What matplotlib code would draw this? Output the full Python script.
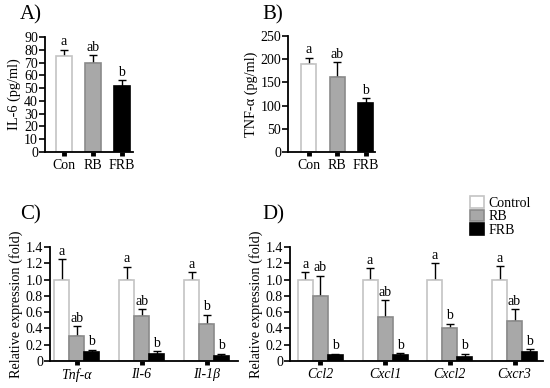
import numpy as np
import matplotlib
matplotlib.use("Agg")
import matplotlib.pyplot as plt
from matplotlib.patches import Patch

plt.rcParams['font.family'] = ['Liberation Serif', 'DejaVu Serif']
plt.rcParams['mathtext.fontset'] = 'stix'

# panel A / B data
groups_ab = ['Con', 'RB', 'FRB']
il6 = [75, 70, 52]
il6_err = [5, 6, 4]
il6_sig = ['a', 'ab', 'b']
tnf = [190, 161, 106]
tnf_err = [13, 33, 10]
tnf_sig = ['a', 'ab', 'b']

# panel C data
genes_c = ['Tnf-α', 'Il-6', 'Il-1β']
c_control = [1.00, 0.99, 1.00]
c_control_err = [0.25, 0.17, 0.09]
c_rb = [0.31, 0.55, 0.46]
c_rb_err = [0.12, 0.09, 0.11]
c_frb = [0.11, 0.08, 0.06]
c_frb_err = [0.03, 0.04, 0.03]
c_sig = [['a', 'ab', 'b'], ['a', 'ab', 'b'], ['a', 'b', 'b']]

# panel D data
genes_d = ['Ccl2', 'Cxcl1', 'Cxcl2', 'Cxcr3']
d_control = [1.00, 1.00, 1.00, 1.00]
d_control_err = [0.09, 0.14, 0.20, 0.17]
d_rb = [0.80, 0.54, 0.40, 0.49]
d_rb_err = [0.25, 0.21, 0.06, 0.15]
d_frb = [0.07, 0.07, 0.05, 0.11]
d_frb_err = [0.02, 0.03, 0.04, 0.04]
d_sig = [['a', 'ab', 'b'], ['a', 'ab', 'b'], ['a', 'b', 'b'], ['a', 'ab', 'b']]

rel_ticks = [0, 0.2, 0.4, 0.6, 0.8, 1.0, 1.2, 1.4]
rel_labels = ['0', '0.2', '0.4', '0.6', '0.8', '1.0', '1.2', '1.4']

fills = ['white', '#a8a8a8', 'black']
edges = ['#c4c4c4', '#8a8a8a', 'black']
names = ['Control', 'RB', 'FRB']

FS = 10

fig = plt.figure(figsize=(5.5, 3.88), dpi=100)
W, H = 550, 388


def make_ax(l, r, top, bot):
    return fig.add_axes([l / W, 1 - bot / H, (r - l) / W, (bot - top) / H])


def style(ax):
    for s in ['top', 'right']:
        ax.spines[s].set_visible(False)
    for s in ['left', 'bottom']:
        ax.spines[s].set_linewidth(1.3)
    ax.tick_params(axis='y', direction='out', length=4, width=1.2, labelsize=FS, pad=1)
    ax.tick_params(axis='x', direction='out', length=3, width=3.5, labelsize=FS, pad=2)


def simple_panel(ax, vals, errs, sig, width, off):
    x = np.arange(len(vals))
    for i in range(len(vals)):
        ax.bar(x[i], vals[i], width, color=fills[i], edgecolor=edges[i], linewidth=1.2, zorder=2)
        ax.errorbar(x[i], vals[i], yerr=[[0], [errs[i]]], color='black', capsize=3,
                    elinewidth=1, capthick=1, zorder=1)
        ax.text(x[i], vals[i] + errs[i] + off, sig[i], ha='center', va='bottom', fontsize=FS)
    ax.set_xticks(x)
    ax.set_xticklabels(groups_ab)
    style(ax)


# A
axA = make_ax(45, 133, 37, 152)
simple_panel(axA, il6, il6_err, il6_sig, 0.55, 1)
axA.set_ylim(0, 90)
axA.set_yticks(np.arange(0, 91, 10))
axA.set_xlim(-0.655, 2.38)
axA.set_ylabel('IL-6 (pg/ml)', fontsize=10.3, labelpad=2)
fig.text(20 / W, 1 - 15 / H, 'A)', fontsize=15, va='center')

# B
axB = make_ax(288, 375, 36, 152)
simple_panel(axB, tnf, tnf_err, tnf_sig, 0.53, 3)
axB.set_ylim(0, 250)
axB.set_yticks(np.arange(0, 251, 50))
axB.set_xlim(-0.72, 2.33)
axB.set_ylabel('TNF-α (pg/ml)', fontsize=10.3, labelpad=2)
fig.text(262 / W, 1 - 15 / H, 'B)', fontsize=15, va='center')


def group_panel(ax, genes, series, errs, sig, width):
    x = np.arange(len(genes))
    for k in range(3):
        xs = x + (k - 1) * width
        ax.bar(xs, series[k], width, color=fills[k], edgecolor=edges[k], linewidth=1.2, zorder=2)
        ax.errorbar(xs, series[k], yerr=[np.zeros(len(genes)), errs[k]], fmt='none',
                    ecolor='black', capsize=3, elinewidth=1, capthick=1, zorder=1)
        for i in range(len(genes)):
            ax.text(xs[i], series[k][i] + errs[k][i] + 0.015, sig[i][k],
                    ha='center', va='bottom', fontsize=FS)
    ax.set_xticks(x)
    ax.set_xticklabels(genes, style='italic')
    ax.set_ylim(0, 1.4)
    ax.set_yticks(rel_ticks)
    ax.set_yticklabels(rel_labels)
    ax.set_ylabel('Relative expression (fold)', fontsize=10.3, labelpad=2)
    style(ax)


# C
axC = make_ax(50, 238, 247, 361)
group_panel(axC, genes_c, [c_control, c_rb, c_frb], [c_control_err, c_rb_err, c_frb_err], c_sig, 0.23)
axC.set_xlim(-0.41, 2.485)
fig.text(20 / W, 1 - 215 / H, 'C)', fontsize=15, va='center')

# D
axD = make_ax(290, 543, 247, 361)
group_panel(axD, genes_d, [d_control, d_rb, d_frb], [d_control_err, d_rb_err, d_frb_err], d_sig, 0.232)
axD.set_xlim(-0.47, 3.44)
fig.text(262 / W, 1 - 215 / H, 'D)', fontsize=15, va='center')

handles = [Patch(facecolor=fills[i], edgecolor=edges[i], linewidth=1.2) for i in range(3)]
fig.legend(handles, names, loc='upper left', bbox_to_anchor=(470 / W, 1 - 196 / H),
           frameon=False, fontsize=FS, labelspacing=0.0, handlelength=1.0,
           handleheight=0.9, handletextpad=0.3, borderpad=0, borderaxespad=0)

fig.savefig('out.png', dpi=100)
